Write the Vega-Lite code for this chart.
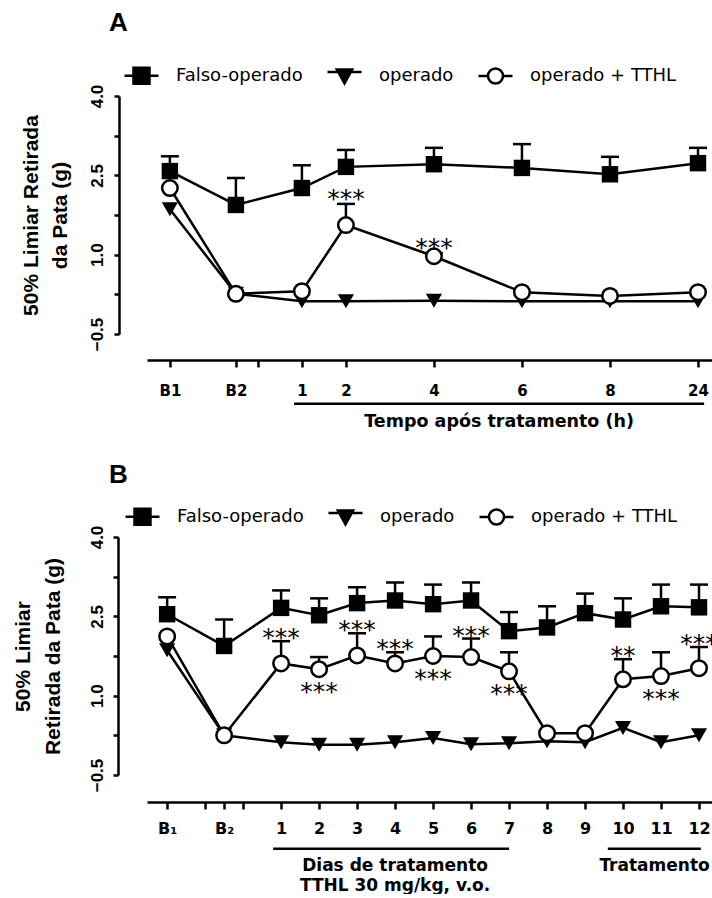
{
  "$schema": "https://vega.github.io/schema/vega-lite/v6.json",
  "background": "white",
  "padding": {"left": 12, "top": 10, "right": 0, "bottom": 0},
  "config": {
    "view": {"stroke": null},
    "axis": {"grid": false, "domainColor": "black", "tickColor": "black", "labelColor": "black", "titleColor": "black", "domainWidth": 2.5, "tickWidth": 2.5, "labelOverlap": false}
  },
  "datasets": {
    "dadosA": [
      {"grupo": "operado", "t": -2, "media": 1.86},
      {"grupo": "operado", "t": -0.5, "media": 0.26},
      {"grupo": "operado", "t": 1, "media": 0.12},
      {"grupo": "operado", "t": 2, "media": 0.12},
      {"grupo": "operado", "t": 4, "media": 0.13},
      {"grupo": "operado", "t": 6, "media": 0.12},
      {"grupo": "operado", "t": 8, "media": 0.12},
      {"grupo": "operado", "t": 10, "media": 0.12},
      {"grupo": "operado + TTHL", "t": -2, "media": 2.26},
      {"grupo": "operado + TTHL", "t": -0.5, "media": 0.26},
      {"grupo": "operado + TTHL", "t": 1, "media": 0.31},
      {"grupo": "operado + TTHL", "t": 2, "media": 1.56, "sup": 1.96, "sig": "***", "pos": "acima"},
      {"grupo": "operado + TTHL", "t": 4, "media": 0.97, "sup": 1.03, "sig": "***", "pos": "acima"},
      {"grupo": "operado + TTHL", "t": 6, "media": 0.29},
      {"grupo": "operado + TTHL", "t": 8, "media": 0.22},
      {"grupo": "operado + TTHL", "t": 10, "media": 0.29},
      {"grupo": "Falso-operado", "t": -2, "media": 2.58, "sup": 2.86},
      {"grupo": "Falso-operado", "t": -0.5, "media": 1.94, "sup": 2.45},
      {"grupo": "Falso-operado", "t": 1, "media": 2.26, "sup": 2.69},
      {"grupo": "Falso-operado", "t": 2, "media": 2.66, "sup": 2.98},
      {"grupo": "Falso-operado", "t": 4, "media": 2.71, "sup": 3.02},
      {"grupo": "Falso-operado", "t": 6, "media": 2.64, "sup": 3.09},
      {"grupo": "Falso-operado", "t": 8, "media": 2.52, "sup": 2.85},
      {"grupo": "Falso-operado", "t": 10, "media": 2.73, "sup": 3.02}
    ],
    "dadosB": [
      {"grupo": "operado", "t": -2, "media": 1.86},
      {"grupo": "operado", "t": -0.5, "media": 0.25},
      {"grupo": "operado", "t": 1, "media": 0.12},
      {"grupo": "operado", "t": 2, "media": 0.07},
      {"grupo": "operado", "t": 3, "media": 0.07},
      {"grupo": "operado", "t": 4, "media": 0.12},
      {"grupo": "operado", "t": 5, "media": 0.2},
      {"grupo": "operado", "t": 6, "media": 0.08},
      {"grupo": "operado", "t": 7, "media": 0.1},
      {"grupo": "operado", "t": 8, "media": 0.14},
      {"grupo": "operado", "t": 9, "media": 0.12},
      {"grupo": "operado", "t": 10, "media": 0.39},
      {"grupo": "operado", "t": 11, "media": 0.12},
      {"grupo": "operado", "t": 12, "media": 0.25},
      {"grupo": "operado + TTHL", "t": -2, "media": 2.12},
      {"grupo": "operado + TTHL", "t": -0.5, "media": 0.25},
      {"grupo": "operado + TTHL", "t": 1, "media": 1.61, "sup": 2.03, "sig": "***", "pos": "acima"},
      {"grupo": "operado + TTHL", "t": 2, "media": 1.5, "sup": 1.73, "sig": "***", "pos": "abaixo"},
      {"grupo": "operado + TTHL", "t": 3, "media": 1.76, "sup": 2.18, "sig": "***", "pos": "acima"},
      {"grupo": "operado + TTHL", "t": 4, "media": 1.61, "sup": 1.82, "sig": "***", "pos": "acima"},
      {"grupo": "operado + TTHL", "t": 5, "media": 1.75, "sup": 2.12, "sig": "***", "pos": "abaixo"},
      {"grupo": "operado + TTHL", "t": 6, "media": 1.73, "sup": 2.08, "sig": "***", "pos": "acima"},
      {"grupo": "operado + TTHL", "t": 7, "media": 1.46, "sup": 1.82, "sig": "***", "pos": "abaixo"},
      {"grupo": "operado + TTHL", "t": 8, "media": 0.29},
      {"grupo": "operado + TTHL", "t": 9, "media": 0.29},
      {"grupo": "operado + TTHL", "t": 10, "media": 1.31, "sup": 1.69, "sig": "**", "pos": "acima"},
      {"grupo": "operado + TTHL", "t": 11, "media": 1.37, "sup": 1.82, "sig": "***", "pos": "abaixo"},
      {"grupo": "operado + TTHL", "t": 12, "media": 1.52, "sup": 1.92, "sig": "***", "pos": "acima"},
      {"grupo": "Falso-operado", "t": -2, "media": 2.54, "sup": 2.86},
      {"grupo": "Falso-operado", "t": -0.5, "media": 1.94, "sup": 2.44},
      {"grupo": "Falso-operado", "t": 1, "media": 2.66, "sup": 2.99},
      {"grupo": "Falso-operado", "t": 2, "media": 2.52, "sup": 2.84},
      {"grupo": "Falso-operado", "t": 3, "media": 2.75, "sup": 3.05},
      {"grupo": "Falso-operado", "t": 4, "media": 2.8, "sup": 3.14},
      {"grupo": "Falso-operado", "t": 5, "media": 2.73, "sup": 3.1},
      {"grupo": "Falso-operado", "t": 6, "media": 2.8, "sup": 3.14},
      {"grupo": "Falso-operado", "t": 7, "media": 2.22, "sup": 2.58},
      {"grupo": "Falso-operado", "t": 8, "media": 2.29, "sup": 2.69},
      {"grupo": "Falso-operado", "t": 9, "media": 2.56, "sup": 2.93},
      {"grupo": "Falso-operado", "t": 10, "media": 2.44, "sup": 2.84},
      {"grupo": "Falso-operado", "t": 11, "media": 2.69, "sup": 3.1},
      {"grupo": "Falso-operado", "t": 12, "media": 2.67, "sup": 3.1}
    ],
    "colchetesA": [
      {"inicio": 0.82, "fim": 10.14, "centro": 5.48, "rotulo": "Tempo após tratamento (h)"}
    ],
    "colchetesB": [
      {"inicio": 0.79, "fim": 7.0, "centro": 4.0, "rotulo": ["Dias de tratamento", "TTHL 30 mg/kg, v.o."]},
      {"inicio": 9.6, "fim": 12.05, "centro": 10.83, "rotulo": ["Tratamento"]}
    ]
  },
  "vconcat": [
    {
      "width": 573,
      "height": 238,
      "title": {"text": "A", "anchor": "start", "frame": "group", "dx": -38, "offset": 21, "font": "Liberation Sans", "fontSize": 26, "fontWeight": "bold", "color": "black"},
      "data": {"name": "dadosA"},
      "layer": [
        {
          "mark": {"type": "line", "stroke": "black", "strokeWidth": 2.5},
          "encoding": {
            "x": {"field": "t", "type": "quantitative", "scale": {"domain": [-2.52, 10.5], "nice": false, "zero": false},
              "axis": {"values": [-2, -0.5, 0, 1, 2, 4, 6, 8, 10], "format": "d", "tickCount": 40,
                "labelExpr": "datum.value == -2 ? 'B1' : datum.value == -0.5 ? 'B2' : datum.value == 0 ? '' : datum.value == 10 ? '24' : datum.label",
                "offset": 26, "tickSize": 7, "labelPadding": 16, "labelFont": "DejaVu Sans", "labelFontSize": 15, "labelFontWeight": "bold",
                "labelFlush": false, "labelOverlap": false, "title": null}},
            "y": {"field": "media", "type": "quantitative", "scale": {"domain": [-0.5, 4], "nice": false, "zero": false},
              "axis": {"values": [-0.5, 0.25, 1, 1.75, 2.5, 3.25, 4], "tickCount": 40,
                "labelExpr": "indexof([-0.5, 1, 2.5, 4], datum.value) >= 0 ? format(datum.value, '.1f') : ''",
                "offset": 28, "tickSize": 5, "labelAngle": 270, "labelAlign": "center", "labelBaseline": "bottom", "labelPadding": 8,
                "labelFont": "Liberation Sans", "labelFontSize": 17, "labelFontWeight": "bold", "labelOverlap": false, "labelFlush": false,
                "title": ["50% Limiar Retirada", "da Pata (g)"], "titleFont": "Liberation Sans", "titleFontSize": 21, "titleFontWeight": "bold",
                "titleLineHeight": 29, "titlePadding": 18}},
            "detail": {"field": "grupo"}
          }
        },
        {
          "transform": [{"filter": "isValid(datum.sup)"}],
          "mark": {"type": "rule", "stroke": "black", "strokeWidth": 2.5},
          "encoding": {
            "x": {"field": "t", "type": "quantitative", "scale": {"domain": [-2.52, 10.5], "nice": false, "zero": false}},
            "y": {"field": "media", "type": "quantitative", "scale": {"domain": [-0.5, 4], "nice": false, "zero": false}},
            "y2": {"field": "sup"}
          }
        },
        {
          "transform": [{"filter": "isValid(datum.sup)"}],
          "mark": {"type": "tick", "orient": "horizontal", "size": 18, "thickness": 2.5, "color": "black", "opacity": 1},
          "encoding": {
            "x": {"field": "t", "type": "quantitative", "scale": {"domain": [-2.52, 10.5], "nice": false, "zero": false}},
            "y": {"field": "sup", "type": "quantitative", "scale": {"domain": [-0.5, 4], "nice": false, "zero": false}}
          }
        },
        {
          "transform": [{"filter": "datum.grupo == 'operado'"}],
          "mark": {"type": "point", "shape": "triangle-down", "filled": true, "fill": "black", "strokeWidth": 0, "size": 260, "opacity": 1},
          "encoding": {
            "x": {"field": "t", "type": "quantitative", "scale": {"domain": [-2.52, 10.5], "nice": false, "zero": false}},
            "y": {"field": "media", "type": "quantitative", "scale": {"domain": [-0.5, 4], "nice": false, "zero": false}}
          }
        },
        {
          "transform": [{"filter": "datum.grupo == 'operado + TTHL'"}],
          "mark": {"type": "point", "shape": "circle", "filled": true, "fill": "white", "stroke": "black", "strokeWidth": 2.5, "size": 240, "opacity": 1},
          "encoding": {
            "x": {"field": "t", "type": "quantitative", "scale": {"domain": [-2.52, 10.5], "nice": false, "zero": false}},
            "y": {"field": "media", "type": "quantitative", "scale": {"domain": [-0.5, 4], "nice": false, "zero": false}}
          }
        },
        {
          "transform": [{"filter": "datum.grupo == 'Falso-operado'"}],
          "mark": {"type": "point", "shape": "square", "filled": true, "fill": "black", "strokeWidth": 0, "size": 270, "opacity": 1},
          "encoding": {
            "x": {"field": "t", "type": "quantitative", "scale": {"domain": [-2.52, 10.5], "nice": false, "zero": false}},
            "y": {"field": "media", "type": "quantitative", "scale": {"domain": [-0.5, 4], "nice": false, "zero": false}}
          }
        },
        {
          "transform": [{"filter": "datum.pos == 'acima'"}],
          "mark": {"type": "text", "font": "DejaVu Sans", "fontSize": 25, "baseline": "alphabetic", "align": "center", "dy": 3, "color": "black"},
          "encoding": {
            "x": {"field": "t", "type": "quantitative", "scale": {"domain": [-2.52, 10.5], "nice": false, "zero": false}},
            "y": {"field": "sup", "type": "quantitative", "scale": {"domain": [-0.5, 4], "nice": false, "zero": false}},
            "text": {"field": "sig"}
          }
        },
        {
          "data": {"name": "colchetesA"},
          "mark": {"type": "rule", "stroke": "black", "strokeWidth": 2.5},
          "encoding": {
            "x": {"field": "inicio", "type": "quantitative", "scale": {"domain": [-2.52, 10.5], "nice": false, "zero": false}},
            "x2": {"field": "fim"},
            "y": {"datum": -1.82, "type": "quantitative", "scale": {"domain": [-0.5, 4], "nice": false, "zero": false}}
          }
        },
        {
          "data": {"name": "colchetesA"},
          "mark": {"type": "text", "font": "DejaVu Sans", "fontSize": 17.5, "fontWeight": "bold", "baseline": "top", "align": "center", "dy": 9, "color": "black"},
          "encoding": {
            "x": {"field": "centro", "type": "quantitative", "scale": {"domain": [-2.52, 10.5], "nice": false, "zero": false}},
            "y": {"datum": -1.82, "type": "quantitative", "scale": {"domain": [-0.5, 4], "nice": false, "zero": false}},
            "text": {"field": "rotulo"}
          }
        },
        {
          "transform": [{"filter": "false"}],
          "mark": {"type": "point", "filled": true, "stroke": "black", "strokeWidth": 2.5, "size": 1156, "opacity": 1},
          "encoding": {
            "shape": {"field": "grupo", "type": "nominal",
              "scale": {"domain": ["Falso-operado", "operado", "operado + TTHL"],
                "range": ["M-1,0H-0.47M0.47,0H1M-0.47,-0.47H0.47V0.47H-0.47Z",
                          "M-1,-0.25H1M-0.45,-0.4H0.45L0,0.42Z",
                          "M-1,0H-0.44M0.44,0H1M-0.44,0C-0.44,-0.243,-0.243,-0.44,0,-0.44C0.243,-0.44,0.44,-0.243,0.44,0C0.44,0.243,0.243,0.44,0,0.44C-0.243,0.44,-0.44,0.243,-0.44,0Z"]},
              "legend": {"orient": "none", "legendX": -24, "legendY": -39, "direction": "horizontal", "title": null, "padding": 0,
                "labelFont": "DejaVu Sans", "labelFontSize": 18, "labelColor": "black", "labelOffset": 16, "columnPadding": 19,
                "symbolSize": 1156, "symbolStrokeWidth": 2.5, "symbolStrokeColor": "black"}},
            "fill": {"field": "grupo", "type": "nominal",
              "scale": {"domain": ["Falso-operado", "operado", "operado + TTHL"], "range": ["black", "black", "white"]},
              "legend": {"orient": "none", "legendX": -24, "legendY": -39, "direction": "horizontal", "title": null, "padding": 0,
                "labelFont": "DejaVu Sans", "labelFontSize": 18, "labelColor": "black", "labelOffset": 16, "columnPadding": 19,
                "symbolSize": 1156, "symbolStrokeWidth": 2.5, "symbolStrokeColor": "black"}},
            "stroke": {"field": "grupo", "type": "nominal",
              "scale": {"domain": ["Falso-operado", "operado", "operado + TTHL"], "range": ["black", "black", "black"]},
              "legend": {"orient": "none", "legendX": -24, "legendY": -39, "direction": "horizontal", "title": null, "padding": 0,
                "labelFont": "DejaVu Sans", "labelFontSize": 18, "labelColor": "black", "labelOffset": 16, "columnPadding": 19,
                "symbolSize": 1156, "symbolStrokeWidth": 2.5, "symbolStrokeColor": "black"}}
          }
        }
      ]
    },
    {
      "width": 571,
      "height": 238,
      "title": {"text": "B", "anchor": "start", "frame": "group", "dx": -38, "offset": 10, "font": "Liberation Sans", "fontSize": 26, "fontWeight": "bold", "color": "black"},
      "data": {"name": "dadosB"},
      "layer": [
        {
          "mark": {"type": "line", "stroke": "black", "strokeWidth": 2.5},
          "encoding": {
            "x": {"field": "t", "type": "quantitative", "scale": {"domain": [-2.53, 12.5], "nice": false, "zero": false},
              "axis": {"values": [-2, -1, -0.5, 0, 1, 2, 3, 4, 5, 6, 7, 8, 9, 10, 11, 12], "format": "d", "tickCount": 40,
                "labelExpr": "datum.value == -2 ? 'B₁' : datum.value == -0.5 ? 'B₂' : (datum.value == 0 || datum.value == -1) ? '' : datum.label",
                "offset": 27, "tickSize": 7, "labelPadding": 11, "labelFont": "DejaVu Sans", "labelFontSize": 16, "labelFontWeight": "bold",
                "labelFlush": false, "labelOverlap": false, "title": null}},
            "y": {"field": "media", "type": "quantitative", "scale": {"domain": [-0.5, 4], "nice": false, "zero": false},
              "axis": {"values": [-0.5, 0.25, 1, 1.75, 2.5, 3.25, 4], "tickCount": 40,
                "labelExpr": "indexof([-0.5, 1, 2.5, 4], datum.value) >= 0 ? format(datum.value, '.1f') : ''",
                "offset": 29, "tickSize": 5, "labelAngle": 270, "labelAlign": "center", "labelBaseline": "bottom", "labelPadding": 7,
                "labelFont": "Liberation Sans", "labelFontSize": 17, "labelFontWeight": "bold", "labelOverlap": false, "labelFlush": false,
                "title": ["50% Limiar", "Retirada da Pata (g)"], "titleFont": "Liberation Sans", "titleFontSize": 21, "titleFontWeight": "bold",
                "titleLineHeight": 30, "titlePadding": 25}},
            "detail": {"field": "grupo"}
          }
        },
        {
          "transform": [{"filter": "isValid(datum.sup)"}],
          "mark": {"type": "rule", "stroke": "black", "strokeWidth": 2.5},
          "encoding": {
            "x": {"field": "t", "type": "quantitative", "scale": {"domain": [-2.53, 12.5], "nice": false, "zero": false}},
            "y": {"field": "media", "type": "quantitative", "scale": {"domain": [-0.5, 4], "nice": false, "zero": false}},
            "y2": {"field": "sup"}
          }
        },
        {
          "transform": [{"filter": "isValid(datum.sup)"}],
          "mark": {"type": "tick", "orient": "horizontal", "size": 18, "thickness": 2.5, "color": "black", "opacity": 1},
          "encoding": {
            "x": {"field": "t", "type": "quantitative", "scale": {"domain": [-2.53, 12.5], "nice": false, "zero": false}},
            "y": {"field": "sup", "type": "quantitative", "scale": {"domain": [-0.5, 4], "nice": false, "zero": false}}
          }
        },
        {
          "transform": [{"filter": "datum.grupo == 'operado'"}],
          "mark": {"type": "point", "shape": "triangle-down", "filled": true, "fill": "black", "strokeWidth": 0, "size": 260, "opacity": 1},
          "encoding": {
            "x": {"field": "t", "type": "quantitative", "scale": {"domain": [-2.53, 12.5], "nice": false, "zero": false}},
            "y": {"field": "media", "type": "quantitative", "scale": {"domain": [-0.5, 4], "nice": false, "zero": false}}
          }
        },
        {
          "transform": [{"filter": "datum.grupo == 'operado + TTHL'"}],
          "mark": {"type": "point", "shape": "circle", "filled": true, "fill": "white", "stroke": "black", "strokeWidth": 2.5, "size": 240, "opacity": 1},
          "encoding": {
            "x": {"field": "t", "type": "quantitative", "scale": {"domain": [-2.53, 12.5], "nice": false, "zero": false}},
            "y": {"field": "media", "type": "quantitative", "scale": {"domain": [-0.5, 4], "nice": false, "zero": false}}
          }
        },
        {
          "transform": [{"filter": "datum.grupo == 'Falso-operado'"}],
          "mark": {"type": "point", "shape": "square", "filled": true, "fill": "black", "strokeWidth": 0, "size": 270, "opacity": 1},
          "encoding": {
            "x": {"field": "t", "type": "quantitative", "scale": {"domain": [-2.53, 12.5], "nice": false, "zero": false}},
            "y": {"field": "media", "type": "quantitative", "scale": {"domain": [-0.5, 4], "nice": false, "zero": false}}
          }
        },
        {
          "transform": [{"filter": "datum.pos == 'acima'"}],
          "mark": {"type": "text", "font": "DejaVu Sans", "fontSize": 25, "baseline": "alphabetic", "align": "center", "dy": 5, "color": "black"},
          "encoding": {
            "x": {"field": "t", "type": "quantitative", "scale": {"domain": [-2.53, 12.5], "nice": false, "zero": false}},
            "y": {"field": "sup", "type": "quantitative", "scale": {"domain": [-0.5, 4], "nice": false, "zero": false}},
            "text": {"field": "sig"}
          }
        },
        {
          "transform": [{"filter": "datum.pos == 'abaixo'"}],
          "mark": {"type": "text", "font": "DejaVu Sans", "fontSize": 25, "baseline": "alphabetic", "align": "center", "dy": 31, "color": "black"},
          "encoding": {
            "x": {"field": "t", "type": "quantitative", "scale": {"domain": [-2.53, 12.5], "nice": false, "zero": false}},
            "y": {"field": "media", "type": "quantitative", "scale": {"domain": [-0.5, 4], "nice": false, "zero": false}},
            "text": {"field": "sig"}
          }
        },
        {
          "data": {"name": "colchetesB"},
          "mark": {"type": "rule", "stroke": "black", "strokeWidth": 2.5},
          "encoding": {
            "x": {"field": "inicio", "type": "quantitative", "scale": {"domain": [-2.53, 12.5], "nice": false, "zero": false}},
            "x2": {"field": "fim"},
            "y": {"datum": -1.896, "type": "quantitative", "scale": {"domain": [-0.5, 4], "nice": false, "zero": false}}
          }
        },
        {
          "data": {"name": "colchetesB"},
          "mark": {"type": "text", "font": "DejaVu Sans", "fontSize": 17, "fontWeight": "bold", "baseline": "top", "align": "center", "dy": 9, "lineHeight": 20, "color": "black"},
          "encoding": {
            "x": {"field": "centro", "type": "quantitative", "scale": {"domain": [-2.53, 12.5], "nice": false, "zero": false}},
            "y": {"datum": -1.896, "type": "quantitative", "scale": {"domain": [-0.5, 4], "nice": false, "zero": false}},
            "text": {"field": "rotulo"}
          }
        },
        {
          "transform": [{"filter": "false"}],
          "mark": {"type": "point", "filled": true, "stroke": "black", "strokeWidth": 2.5, "size": 1156, "opacity": 1},
          "encoding": {
            "shape": {"field": "grupo", "type": "nominal",
              "scale": {"domain": ["Falso-operado", "operado", "operado + TTHL"],
                "range": ["M-1,0H-0.47M0.47,0H1M-0.47,-0.47H0.47V0.47H-0.47Z",
                          "M-1,-0.25H1M-0.45,-0.4H0.45L0,0.42Z",
                          "M-1,0H-0.44M0.44,0H1M-0.44,0C-0.44,-0.243,-0.243,-0.44,0,-0.44C0.243,-0.44,0.44,-0.243,0.44,0C0.44,0.243,0.243,0.44,0,0.44C-0.243,0.44,-0.44,0.243,-0.44,0Z"]},
              "legend": {"orient": "none", "legendX": -23, "legendY": -39, "direction": "horizontal", "title": null, "padding": 0,
                "labelFont": "DejaVu Sans", "labelFontSize": 18, "labelColor": "black", "labelOffset": 16, "columnPadding": 19,
                "symbolSize": 1156, "symbolStrokeWidth": 2.5, "symbolStrokeColor": "black"}},
            "fill": {"field": "grupo", "type": "nominal",
              "scale": {"domain": ["Falso-operado", "operado", "operado + TTHL"], "range": ["black", "black", "white"]},
              "legend": {"orient": "none", "legendX": -23, "legendY": -39, "direction": "horizontal", "title": null, "padding": 0,
                "labelFont": "DejaVu Sans", "labelFontSize": 18, "labelColor": "black", "labelOffset": 16, "columnPadding": 19,
                "symbolSize": 1156, "symbolStrokeWidth": 2.5, "symbolStrokeColor": "black"}},
            "stroke": {"field": "grupo", "type": "nominal",
              "scale": {"domain": ["Falso-operado", "operado", "operado + TTHL"], "range": ["black", "black", "black"]},
              "legend": {"orient": "none", "legendX": -23, "legendY": -39, "direction": "horizontal", "title": null, "padding": 0,
                "labelFont": "DejaVu Sans", "labelFontSize": 18, "labelColor": "black", "labelOffset": 16, "columnPadding": 19,
                "symbolSize": 1156, "symbolStrokeWidth": 2.5, "symbolStrokeColor": "black"}}
          }
        }
      ]
    }
  ],
  "spacing": 31,
  "resolve": {"scale": {"shape": "independent", "fill": "independent", "stroke": "independent"}, "legend": {"shape": "independent", "fill": "independent", "stroke": "independent"}}
}
